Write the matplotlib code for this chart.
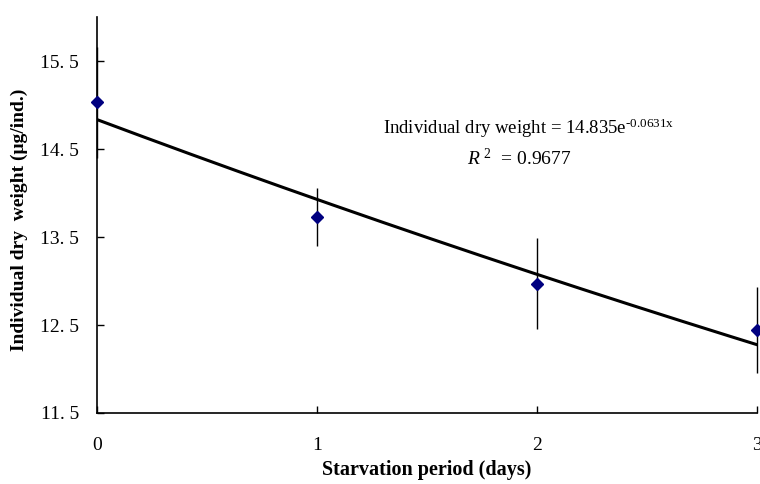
import matplotlib.pyplot as plt
import numpy as np

# data
days = [0, 1, 2, 3]
dry_weight = [15.03, 13.73, 12.97, 12.44]
sd = [0.63, 0.33, 0.52, 0.49]

# exponential trendline coefficients (from the printed equation)
fit_a = 14.835
fit_b = -0.0631
r2 = 0.9677

yticks = [11.5, 12.5, 13.5, 14.5, 15.5]
ytick_labels = ['11. 5', '12. 5', '13. 5', '14. 5', '15. 5']

plt.rcParams['font.family'] = ['Liberation Serif', 'DejaVu Serif']
plt.rcParams['mathtext.fontset'] = 'custom'
plt.rcParams['mathtext.rm'] = 'Liberation Serif'
plt.rcParams['mathtext.it'] = 'Liberation Serif:italic'

fig = plt.figure(figsize=(7.6, 4.84), dpi=100)
ax = fig.add_axes([0.1276, 0.1467, 0.8684, 0.818])

xf = np.linspace(0, 3, 200)
ax.plot(xf, fit_a * np.exp(fit_b * xf), color='black', lw=2.2, zorder=3)

ax.errorbar(days, dry_weight, yerr=sd, fmt='D', color='#000080', ms=6,
            ecolor='black', elinewidth=1, capsize=0, zorder=4, clip_on=False)

ax.set_xlim(0, 3)
ax.set_ylim(11.5, 16)
ax.set_xticks(days)
ax.set_yticks(yticks)
ax.set_yticklabels(ytick_labels)
ax.tick_params(direction='in', length=5, width=1, labelsize=14)
ax.tick_params(axis='y', pad=13)
ax.tick_params(axis='x', pad=17)

for s in ['top', 'right']:
    ax.spines[s].set_visible(False)
for s in ['left', 'bottom']:
    ax.spines[s].set_linewidth(1.2)

ax.set_xlabel('Starvation period (days)', fontsize=14.5, fontweight='bold')
ax.set_ylabel('Individual dry  weight (\u03bcg/ind.)', fontsize=14, fontweight='bold')
ax.xaxis.set_label_coords(0.5, -0.144)
ax.xaxis.label.set_va('center')
ax.yaxis.set_label_coords(-0.117, 0.487)
ax.yaxis.label.set_va('center')

eq = 'Individual dry weight = %.3fe$^{\\text{%.4fx}}$' % (fit_a, fit_b)
ax.text(0.654, 0.72, eq, transform=ax.transAxes, ha='center', va='center',
        fontsize=13.5)
ax.text(0.64, 0.644, '$R^{\\ 2}$  = %.4f' % r2, transform=ax.transAxes,
        ha='center', va='center', fontsize=14)

fig.savefig('out.png', dpi=100)
